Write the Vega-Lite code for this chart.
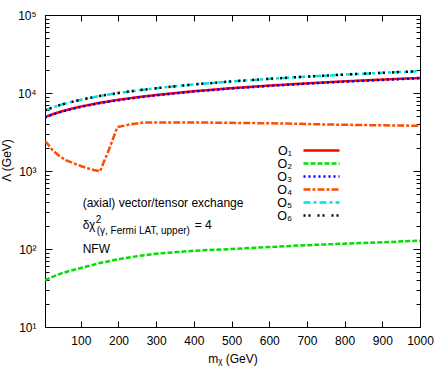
{
  "$schema": "https://vega.github.io/schema/vega-lite/v6.json",
  "width": 375,
  "height": 312,
  "autosize": {"type": "none"},
  "padding": {"left": 45, "top": 15, "right": 23, "bottom": 53},
  "config": {
    "font": "Liberation Sans",
    "view": {"stroke": "black", "strokeWidth": 1},
    "axis": {
      "domainColor": "black", "tickColor": "black", "labelColor": "black", "titleColor": "black",
      "labelFont": "Liberation Sans", "titleFont": "Liberation Sans", "labelFontSize": 12, "titleFontSize": 12,
      "titleFontWeight": "normal", "grid": false, "labelFlush": false, "labelOverlap": false, "tickWidth": 1, "domainWidth": 1
    },
    "legend": {"orient": "none", "legendX": 270, "legendY": 129, "title": null, "symbolType": "M-3.6,0H3.6", "symbolSize": 100, "labelAlign": "right", "labelOffset": -36, "labelFontSize": 12.5, "labelFont": "Liberation Sans", "labelColor": "black", "rowPadding": 0, "padding": 0}
  },
  "datasets": {
    "curves": [
      {"m": 5, "L": 4910, "op": "O₁"}, {"m": 25, "L": 5340, "op": "O₁"}, {"m": 50, "L": 5830, "op": "O₁"}, {"m": 75, "L": 6285, "op": "O₁"}, {"m": 100, "L": 6710, "op": "O₁"}, {"m": 150, "L": 7480, "op": "O₁"}, {"m": 200, "L": 8185, "op": "O₁"}, {"m": 250, "L": 8830, "op": "O₁"}, {"m": 300, "L": 9430, "op": "O₁"}, {"m": 400, "L": 10540, "op": "O₁"}, {"m": 500, "L": 11530, "op": "O₁"}, {"m": 600, "L": 12450, "op": "O₁"}, {"m": 700, "L": 13300, "op": "O₁"}, {"m": 800, "L": 14110, "op": "O₁"}, {"m": 900, "L": 14870, "op": "O₁"}, {"m": 1000, "L": 15590, "op": "O₁"},
      {"m": 5, "L": 40, "op": "O₂"}, {"m": 25, "L": 44, "op": "O₂"}, {"m": 50, "L": 49, "op": "O₂"}, {"m": 75, "L": 53, "op": "O₂"}, {"m": 100, "L": 57, "op": "O₂"}, {"m": 150, "L": 66, "op": "O₂"}, {"m": 200, "L": 74, "op": "O₂"}, {"m": 250, "L": 81, "op": "O₂"}, {"m": 300, "L": 87, "op": "O₂"}, {"m": 400, "L": 95, "op": "O₂"}, {"m": 500, "L": 100, "op": "O₂"}, {"m": 600, "L": 106, "op": "O₂"}, {"m": 700, "L": 112, "op": "O₂"}, {"m": 800, "L": 117, "op": "O₂"}, {"m": 900, "L": 122, "op": "O₂"}, {"m": 1000, "L": 128, "op": "O₂"},
      {"m": 5, "L": 4860, "op": "O₃"}, {"m": 25, "L": 5290, "op": "O₃"}, {"m": 50, "L": 5770, "op": "O₃"}, {"m": 75, "L": 6220, "op": "O₃"}, {"m": 100, "L": 6640, "op": "O₃"}, {"m": 150, "L": 7410, "op": "O₃"}, {"m": 200, "L": 8100, "op": "O₃"}, {"m": 250, "L": 8740, "op": "O₃"}, {"m": 300, "L": 9340, "op": "O₃"}, {"m": 400, "L": 10440, "op": "O₃"}, {"m": 500, "L": 11420, "op": "O₃"}, {"m": 600, "L": 12330, "op": "O₃"}, {"m": 700, "L": 13170, "op": "O₃"}, {"m": 800, "L": 13970, "op": "O₃"}, {"m": 900, "L": 14720, "op": "O₃"}, {"m": 1000, "L": 15430, "op": "O₃"},
      {"m": 5, "L": 2390, "op": "O₄"}, {"m": 10, "L": 2290, "op": "O₄"}, {"m": 25, "L": 1850, "op": "O₄"}, {"m": 45, "L": 1535, "op": "O₄"}, {"m": 60, "L": 1380, "op": "O₄"}, {"m": 80, "L": 1260, "op": "O₄"}, {"m": 100, "L": 1160, "op": "O₄"}, {"m": 116, "L": 1090, "op": "O₄"}, {"m": 135, "L": 1030, "op": "O₄"}, {"m": 151, "L": 990, "op": "O₄"}, {"m": 175, "L": 1900, "op": "O₄"}, {"m": 197, "L": 3650, "op": "O₄"}, {"m": 230, "L": 3950, "op": "O₄"}, {"m": 266, "L": 4180, "op": "O₄"}, {"m": 350, "L": 4200, "op": "O₄"}, {"m": 450, "L": 4170, "op": "O₄"}, {"m": 550, "L": 4120, "op": "O₄"}, {"m": 650, "L": 4050, "op": "O₄"}, {"m": 750, "L": 3950, "op": "O₄"}, {"m": 850, "L": 3880, "op": "O₄"}, {"m": 1000, "L": 3800, "op": "O₄"},
      {"m": 5, "L": 6000, "op": "O₅"}, {"m": 25, "L": 6530, "op": "O₅"}, {"m": 50, "L": 7130, "op": "O₅"}, {"m": 75, "L": 7680, "op": "O₅"}, {"m": 100, "L": 8200, "op": "O₅"}, {"m": 150, "L": 9150, "op": "O₅"}, {"m": 200, "L": 10000, "op": "O₅"}, {"m": 250, "L": 10790, "op": "O₅"}, {"m": 300, "L": 11520, "op": "O₅"}, {"m": 400, "L": 12870, "op": "O₅"}, {"m": 500, "L": 14070, "op": "O₅"}, {"m": 600, "L": 15190, "op": "O₅"}, {"m": 700, "L": 16230, "op": "O₅"}, {"m": 800, "L": 17210, "op": "O₅"}, {"m": 900, "L": 18140, "op": "O₅"}, {"m": 1000, "L": 19020, "op": "O₅"},
      {"m": 5, "L": 6000, "op": "O₆"}, {"m": 25, "L": 6530, "op": "O₆"}, {"m": 50, "L": 7130, "op": "O₆"}, {"m": 75, "L": 7680, "op": "O₆"}, {"m": 100, "L": 8200, "op": "O₆"}, {"m": 150, "L": 9150, "op": "O₆"}, {"m": 200, "L": 10000, "op": "O₆"}, {"m": 250, "L": 10790, "op": "O₆"}, {"m": 300, "L": 11520, "op": "O₆"}, {"m": 400, "L": 12870, "op": "O₆"}, {"m": 500, "L": 14070, "op": "O₆"}, {"m": 600, "L": 15190, "op": "O₆"}, {"m": 700, "L": 16230, "op": "O₆"}, {"m": 800, "L": 17210, "op": "O₆"}, {"m": 900, "L": 18140, "op": "O₆"}, {"m": 1000, "L": 19020, "op": "O₆"}
    ],
    "one": [{"k": 1}]
  },
  "resolve": {"axis": {"x": "independent", "y": "independent"}},
  "layer": [
    {
      "data": {"name": "curves"},
      "mark": {"type": "line", "clip": true},
      "encoding": {
        "x": {"field": "m", "type": "quantitative",
              "scale": {"domain": [5, 1000], "nice": false, "zero": false},
              "axis": {"orient": "bottom", "values": [100, 200, 300, 400, 500, 600, 700, 800, 900, 1000], "format": "d", "tickSize": -6, "labelPadding": 14, "title": "mᵪ (GeV)", "titlePadding": 7}},
        "y": {"field": "L", "type": "quantitative",
              "scale": {"type": "log", "domain": [10, 100000], "nice": false},
              "axis": {"orient": "left", "title": "Λ (GeV)", "titlePadding": 4, "titleY": 145,
                       "values": [10, 20, 30, 40, 50, 60, 70, 80, 90, 100, 200, 300, 400, 500, 600, 700, 800, 900, 1000, 2000, 3000, 4000, 5000, 6000, 7000, 8000, 9000, 10000, 20000, 30000, 40000, 50000, 60000, 70000, 80000, 90000, 100000],
                       "labelExpr": "datum.value == 10 ? '10¹' : datum.value == 100 ? '10²' : datum.value == 1000 ? '10³' : datum.value == 10000 ? '10⁴' : datum.value == 100000 ? '10⁵' : ''",
                       "tickSize": {"condition": {"test": "indexof([10,100,1000,10000,100000], datum.value) >= 0", "value": -7}, "value": -4},
                       "labelPadding": 16}},
        "color": {"field": "op", "type": "nominal",
                  "scale": {"domain": ["O₁", "O₂", "O₃", "O₄", "O₅", "O₆"], "range": ["#ff0000", "#00e000", "#0000ff", "#ff4d00", "#00e0e0", "#000000"]}},
        "strokeDash": {"field": "op", "type": "nominal",
                  "scale": {"domain": ["O₁", "O₂", "O₃", "O₄", "O₅", "O₆"], "range": [[1, 0], [5, 2], [2, 3], [7, 2, 3, 2], [7, 3, 3, 3], [2, 3, 2, 7]]}},
        "strokeWidth": {"field": "op", "type": "nominal",
                  "scale": {"domain": ["O₁", "O₂", "O₃", "O₄", "O₅", "O₆"], "range": [2.5, 2.5, 2.5, 3, 4, 2.5]}}
      }
    },
    {
      "data": {"name": "curves"},
      "mark": {"type": "line", "opacity": 0},
      "encoding": {
        "x": {"field": "m", "type": "quantitative",
              "axis": {"orient": "top", "values": [100, 200, 300, 400, 500, 600, 700, 800, 900, 1000], "tickSize": -6, "labels": false, "title": null}},
        "y": {"field": "L", "type": "quantitative", "scale": {"type": "log"},
              "axis": {"orient": "right", "labels": false, "title": null,
                       "values": [10, 20, 30, 40, 50, 60, 70, 80, 90, 100, 200, 300, 400, 500, 600, 700, 800, 900, 1000, 2000, 3000, 4000, 5000, 6000, 7000, 8000, 9000, 10000, 20000, 30000, 40000, 50000, 60000, 70000, 80000, 90000, 100000],
                       "tickSize": {"condition": {"test": "indexof([10,100,1000,10000,100000], datum.value) >= 0", "value": -7}, "value": -4}}},
        "detail": {"field": "op"}
      }
    },
    {
      "data": {"name": "one"},
      "mark": {"type": "text", "align": "left", "baseline": "alphabetic", "fontSize": 12, "font": "Liberation Sans", "color": "black"},
      "encoding": {"x": {"datum": 105, "type": "quantitative", "axis": null}, "y": {"datum": 350, "type": "quantitative", "axis": null}, "text": {"value": "(axial) vector/tensor exchange"}}
    },
    {
      "data": {"name": "one"},
      "mark": {"type": "text", "align": "left", "baseline": "alphabetic", "fontSize": 12, "font": "Liberation Sans", "color": "black"},
      "encoding": {"x": {"datum": 105, "type": "quantitative", "axis": null}, "y": {"datum": 181, "type": "quantitative", "axis": null}, "text": {"value": "δχ"}}
    },
    {
      "data": {"name": "one"},
      "mark": {"type": "text", "align": "left", "baseline": "alphabetic", "fontSize": 10, "font": "Liberation Sans", "color": "black", "dx": 13, "dy": -6},
      "encoding": {"x": {"datum": 105, "type": "quantitative", "axis": null}, "y": {"datum": 181, "type": "quantitative", "axis": null}, "text": {"value": "2"}}
    },
    {
      "data": {"name": "one"},
      "mark": {"type": "text", "align": "left", "baseline": "alphabetic", "fontSize": 10, "font": "Liberation Sans", "color": "black", "dx": 14, "dy": 5},
      "encoding": {"x": {"datum": 105, "type": "quantitative", "axis": null}, "y": {"datum": 181, "type": "quantitative", "axis": null}, "text": {"value": "(γ, Fermi LAT, upper)"}}
    },
    {
      "data": {"name": "one"},
      "mark": {"type": "text", "align": "left", "baseline": "alphabetic", "fontSize": 12, "font": "Liberation Sans", "color": "black", "dx": 112},
      "encoding": {"x": {"datum": 105, "type": "quantitative", "axis": null}, "y": {"datum": 181, "type": "quantitative", "axis": null}, "text": {"value": "= 4"}}
    },
    {
      "data": {"name": "one"},
      "mark": {"type": "text", "align": "left", "baseline": "alphabetic", "fontSize": 12, "font": "Liberation Sans", "color": "black"},
      "encoding": {"x": {"datum": 105, "type": "quantitative", "axis": null}, "y": {"datum": 89, "type": "quantitative", "axis": null}, "text": {"value": "NFW"}}
    }
  ]
}
